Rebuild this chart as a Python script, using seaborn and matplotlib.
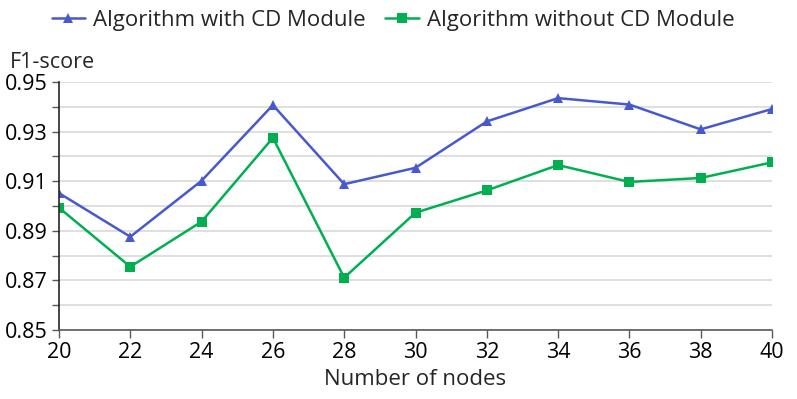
import matplotlib
matplotlib.use("Agg")
import matplotlib.pyplot as plt
import seaborn as sns
import pandas as pd
from matplotlib.ticker import MultipleLocator, FixedLocator

nodes = [20, 22, 24, 26, 28, 30, 32, 34, 36, 38, 40]
with_cd = [0.9052, 0.8876, 0.9102, 0.9407, 0.9088, 0.9154, 0.9341, 0.9435, 0.9409, 0.9309, 0.9391]
without_cd = [0.8993, 0.8755, 0.8937, 0.9275, 0.8711, 0.8973, 0.9063, 0.9165, 0.9097, 0.9113, 0.9176]
series_names = ["Algorithm with CD Module", "Algorithm without CD Module"]
y_ticks = [0.85, 0.87, 0.89, 0.91, 0.93, 0.95]
x_ticks = nodes

df = pd.DataFrame({
    "nodes": nodes * 2,
    "f1": with_cd + without_cd,
    "series": [series_names[0]] * len(nodes) + [series_names[1]] * len(nodes),
})

sns.set_theme(style="white")
plt.rcParams["font.family"] = ["Open Sans", "DejaVu Sans"]

fig = plt.figure(figsize=(7.97, 3.99), dpi=100)
ax = fig.add_axes([59 / 797, 1 - 330 / 399, (772 - 59) / 797, (330 - 82) / 399])

palette = {series_names[0]: "#4759cc", series_names[1]: "#00b050"}
markers = {series_names[0]: "^", series_names[1]: "s"}
sns.lineplot(data=df, x="nodes", y="f1", hue="series", style="series",
             palette=palette, markers=markers, dashes=False, markersize=7,
             markeredgewidth=0, linewidth=1.8, ax=ax)

ax.set_xlim(20, 40)
ax.set_ylim(0.85, 0.95)
ax.set_xticks(x_ticks)
ax.set_xticklabels([str(v) for v in x_ticks])
ax.yaxis.set_major_locator(FixedLocator(y_ticks))
ax.set_yticklabels([f"{v:.2f}" for v in y_ticks])
ax.yaxis.set_minor_locator(MultipleLocator(0.01))
ax.grid(True, which="both", axis="y", color="#d9d9d9", linewidth=1.2)
ax.set_axisbelow(True)
ax.tick_params(axis="both", labelsize=15.5, colors="black")
ax.tick_params(axis="y", which="both", direction="out", length=5, width=1, color="#595959", left=True, pad=3)
ax.tick_params(axis="x", direction="out", length=6, width=1, color="#595959", bottom=True, pad=3)
for s in ["top", "right"]:
    ax.spines[s].set_visible(False)
ax.spines["left"].set_color("#262626")
ax.spines["bottom"].set_color("#595959")
ax.spines["left"].set_linewidth(1.2)
ax.spines["bottom"].set_linewidth(1.2)

ax.set_xlabel("Number of nodes", fontsize=16, labelpad=4)
ax.set_ylabel("")
fig.text(10 / 797, 1 - 62 / 399, "F1-score", fontsize=15.5, va="center", ha="left")

handles, labels = ax.get_legend_handles_labels()
leg = ax.legend(handles, labels, loc="upper center", ncol=2, frameon=False, fontsize=16,
                handlelength=1.5, columnspacing=0.9, handletextpad=0.35,
                bbox_to_anchor=(0.493, 1.025), bbox_transform=fig.transFigure)

fig.savefig("out.png", dpi=100)
